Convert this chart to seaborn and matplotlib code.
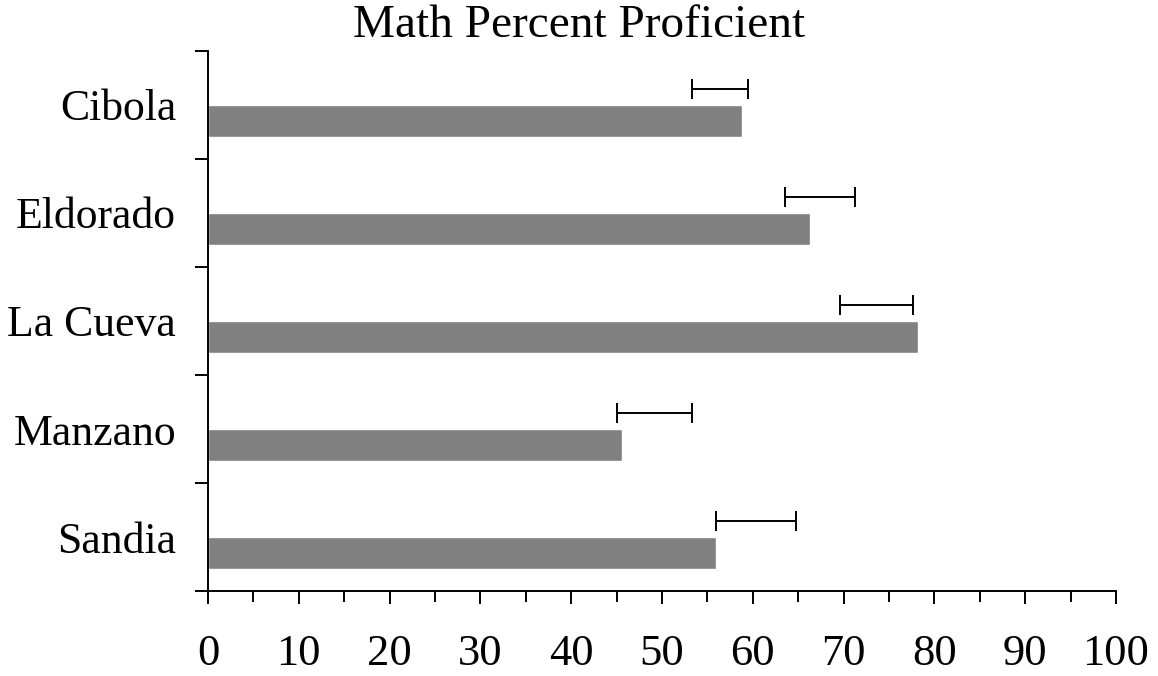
import pandas as pd
import numpy as np
import matplotlib.pyplot as plt
import seaborn as sns

# Values
schools = ['Cibola', 'Eldorado', 'La Cueva', 'Manzano', 'Sandia']
percent = [58.8, 66.3, 78.2, 45.6, 55.9]
ci_low = [53.3, 63.6, 69.6, 45.1, 55.9]
ci_high = [59.5, 71.3, 77.7, 53.3, 64.8]
x_ticks = [0, 10, 20, 30, 40, 50, 60, 70, 80, 90, 100]

sns.set_style('ticks')
plt.rcParams['font.family'] = ['Liberation Serif', 'DejaVu Serif']
plt.rcParams['text.color'] = 'black'
plt.rcParams['xtick.labelcolor'] = 'black'
plt.rcParams['ytick.labelcolor'] = 'black'

# Two hue levels: an empty one on top (where the error bars sit) and the real bars below
df = pd.DataFrame({
    'school': schools * 2,
    'value': [0] * len(schools) + percent,
    'series': ['interval'] * len(schools) + ['percent'] * len(schools),
})

fig = plt.figure(figsize=(11.58, 6.76), dpi=100)
ax = fig.add_axes([0.1796, 0.1257, 0.9637 - 0.1796, 0.9246 - 0.1257])

sns.barplot(data=df, x='value', y='school', hue='series', order=schools,
            hue_order=['interval', 'percent'], palette=['#808080', '#808080'],
            width=0.6, gap=0, orient='h', legend=False, errorbar=None,
            saturation=1, ax=ax)

# Error bars drawn above each bar
low = np.array(ci_low)
high = np.array(ci_high)
mid = (low + high) / 2
ypos = np.arange(len(schools)) - 0.15
ax.errorbar(mid, ypos, xerr=(high - low) / 2, fmt='none', ecolor='black',
            elinewidth=1.4, capsize=7.5, capthick=1.4)

ax.set_xlim(0, 100)
ax.set_ylim(len(schools) - 0.5, -0.5)
ax.set_xticks(x_ticks)
ax.set_xticks(np.arange(5, 100, 10), minor=True)
ax.set_xlabel('')
ax.set_ylabel('')

# Y ticks sit between the categories, labels at the centers
ax.set_yticks(np.arange(-0.5, len(schools), 1.0))
ax.set_yticklabels([])
ax.set_yticks(np.arange(len(schools)), minor=True)
ax.set_yticklabels(schools, minor=True)

ax.tick_params(axis='x', which='major', length=9, width=1.4, labelsize=32, pad=22, colors='black')
ax.tick_params(axis='x', which='minor', length=8, width=1.4, colors='black')
ax.tick_params(axis='y', which='major', length=9.5, width=1.4, colors='black')
ax.tick_params(axis='y', which='minor', length=0, labelsize=31.5, pad=23, colors='black')

for side in ['top', 'right']:
    ax.spines[side].set_visible(False)
for side in ['left', 'bottom']:
    ax.spines[side].set_linewidth(1.4)
    ax.spines[side].set_color('black')

fig.text(0.5, 1 - 37 / 676, 'Math Percent Proficient', fontsize=34,
         ha='center', va='baseline')

fig.savefig('out.png', dpi=100)
